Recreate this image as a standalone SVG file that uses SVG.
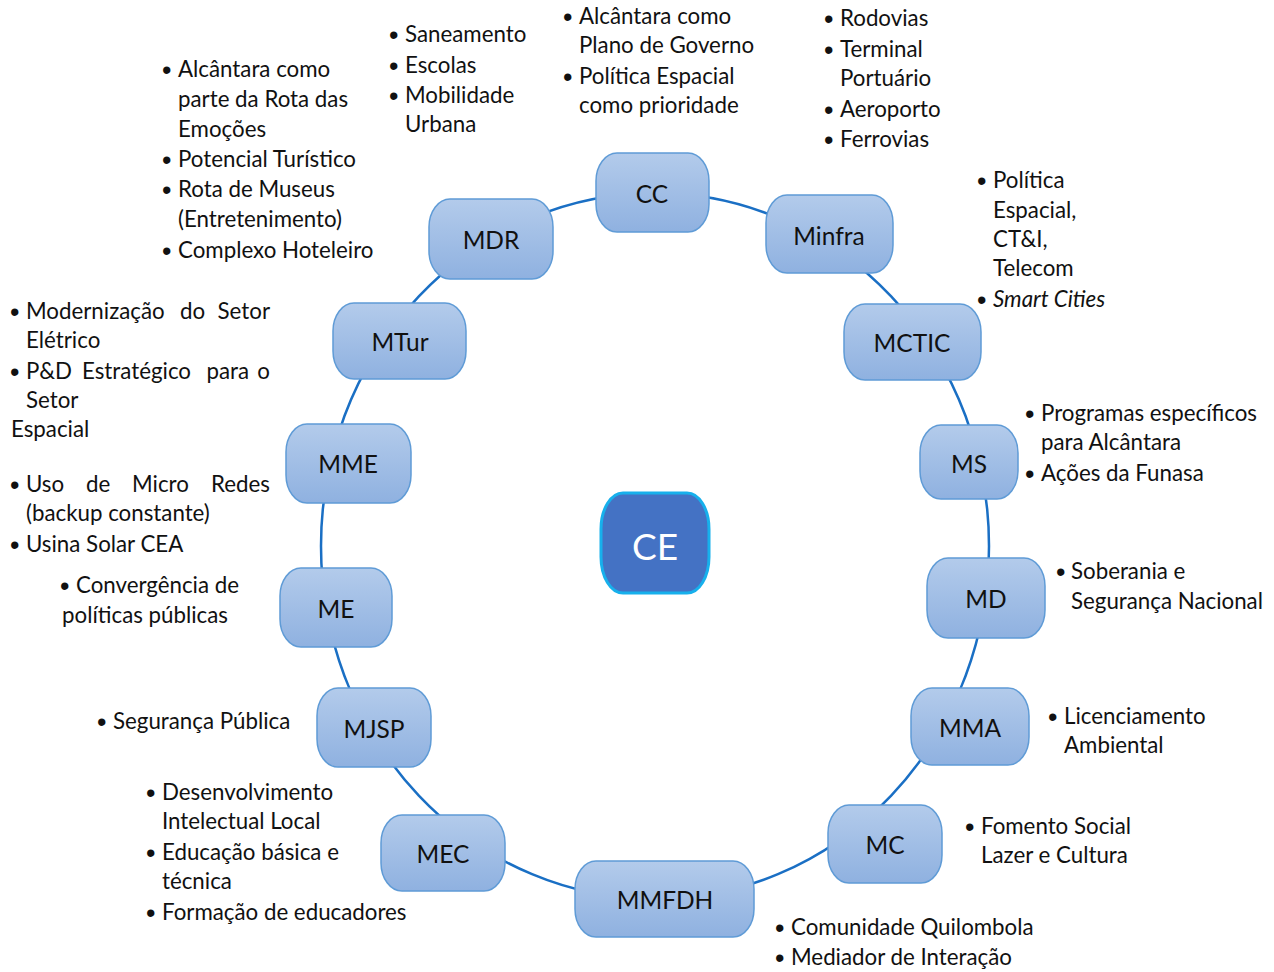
<svg xmlns="http://www.w3.org/2000/svg" width="1274" height="972" viewBox="0 0 1274 972">
<defs>
<linearGradient id="ng" x1="0" y1="0" x2="0" y2="1">
<stop offset="0" stop-color="#b3cbeb"/>
<stop offset="1" stop-color="#8fb1e0"/>
</linearGradient>
<style>
.n rect{fill:url(#ng);stroke:#5f9bd6;stroke-width:1.5}
.n text{font-family:Lato,"Liberation Sans",sans-serif;font-size:24.5px;fill:#111;text-anchor:middle;dominant-baseline:central}
.t{font-family:Lato,"Liberation Sans",sans-serif;font-size:22.3px;fill:#111}
.b{font-family:"Liberation Sans",sans-serif;font-size:27px;fill:#111}
</style>
</defs>
<rect width="1274" height="972" fill="#fff"/>
<g id="connectors">
<ellipse cx="655" cy="546" rx="334" ry="353" fill="none" stroke="#1a6fc4" stroke-width="2.5"/>
</g>
<g id="CC" class="n"><rect x="596" y="153" width="113" height="79" rx="21" ry="28"/><text x="652" y="193">CC</text></g>
<g id="Minfra" class="n"><rect x="766" y="195" width="127" height="78" rx="21" ry="28"/><text x="829" y="235">Minfra</text></g>
<g id="MDR" class="n"><rect x="429" y="199" width="124" height="80" rx="21" ry="28"/><text x="491" y="239">MDR</text></g>
<g id="MTur" class="n"><rect x="333" y="303" width="133" height="76" rx="21" ry="28"/><text x="400" y="341">MTur</text></g>
<g id="MCTIC" class="n"><rect x="844" y="304" width="137" height="76" rx="21" ry="28"/><text x="912" y="342">MCTIC</text></g>
<g id="MME" class="n"><rect x="286" y="424" width="125" height="79" rx="21" ry="28"/><text x="348" y="463">MME</text></g>
<g id="MS" class="n"><rect x="920" y="425" width="98" height="74" rx="21" ry="28"/><text x="969" y="463">MS</text></g>
<g id="ME" class="n"><rect x="280" y="568" width="112" height="79" rx="21" ry="28"/><text x="336" y="608">ME</text></g>
<g id="MD" class="n"><rect x="927" y="558" width="118" height="80" rx="21" ry="28"/><text x="986" y="598">MD</text></g>
<g id="MJSP" class="n"><rect x="317" y="688" width="114" height="79" rx="21" ry="28"/><text x="374" y="728">MJSP</text></g>
<g id="MMA" class="n"><rect x="911" y="688" width="118" height="77" rx="21" ry="28"/><text x="970" y="727">MMA</text></g>
<g id="MEC" class="n"><rect x="381" y="815" width="124" height="76" rx="21" ry="28"/><text x="443" y="853">MEC</text></g>
<g id="MC" class="n"><rect x="828" y="805" width="114" height="78" rx="21" ry="28"/><text x="885" y="844">MC</text></g>
<g id="MMFDH" class="n"><rect x="575" y="861" width="179" height="76" rx="21" ry="28"/><text x="665" y="899">MMFDH</text></g>
<g id="CE"><rect x="601" y="493" width="108" height="100" rx="22" ry="36" fill="#4472c4" stroke="#17b0ec" stroke-width="3"/><text x="655" y="545" font-family="Lato,'Liberation Sans',sans-serif" font-size="37" fill="#fff" text-anchor="middle" dominant-baseline="central">CE</text></g>

<g id="notes-MTur">
<text class="b" x="162" y="79">•</text><text class="t" x="178" y="77">Alcântara como</text>
<text class="t" x="178" y="107">parte da Rota das</text>
<text class="t" x="178" y="137">Emoções</text>
<text class="b" x="162" y="169">•</text><text class="t" x="178" y="167">Potencial Turístico</text>
<text class="b" x="162" y="199">•</text><text class="t" x="178" y="197">Rota de Museus</text>
<text class="t" x="178" y="227">(Entretenimento)</text>
<text class="b" x="162" y="260">•</text><text class="t" x="178" y="258">Complexo Hoteleiro</text>
</g>
<g id="notes-MDR">
<text class="b" x="389" y="44">•</text><text class="t" x="405" y="42">Saneamento</text>
<text class="b" x="389" y="75">•</text><text class="t" x="405" y="73">Escolas</text>
<text class="b" x="389" y="105">•</text><text class="t" x="405" y="103">Mobilidade</text>
<text class="t" x="405" y="132">Urbana</text>
</g>
<g id="notes-CC">
<text class="b" x="563" y="26">•</text><text class="t" x="579" y="24">Alcântara como</text>
<text class="t" x="579" y="53">Plano de Governo</text>
<text class="b" x="563" y="86">•</text><text class="t" x="579" y="84">Política Espacial</text>
<text class="t" x="579" y="113">como prioridade</text>
</g>
<g id="notes-Minfra">
<text class="b" x="824" y="28">•</text><text class="t" x="840" y="26">Rodovias</text>
<text class="b" x="824" y="59">•</text><text class="t" x="840" y="57">Terminal</text>
<text class="t" x="840" y="86">Portuário</text>
<text class="b" x="824" y="119">•</text><text class="t" x="840" y="117">Aeroporto</text>
<text class="b" x="824" y="149">•</text><text class="t" x="840" y="147">Ferrovias</text>
</g>
<g id="notes-MCTIC">
<text class="b" x="977" y="190">•</text><text class="t" x="993" y="188">Política</text>
<text class="t" x="993" y="218">Espacial,</text>
<text class="t" x="993" y="247">CT&amp;I,</text>
<text class="t" x="993" y="276">Telecom</text>
<text class="b" x="977" y="309">•</text><text class="t" x="993" y="307" font-style="italic">Smart Cities</text>
</g>
<g id="notes-MS">
<text class="b" x="1025" y="423">•</text><text class="t" x="1041" y="421">Programas específicos</text>
<text class="t" x="1041" y="450">para Alcântara</text>
<text class="b" x="1025" y="483">•</text><text class="t" x="1041" y="481">Ações da Funasa</text>
</g>
<g id="notes-MD">
<text class="b" x="1056" y="581">•</text><text class="t" x="1071" y="579">Soberania e</text>
<text class="t" x="1071" y="609">Segurança Nacional</text>
</g>
<g id="notes-MMA">
<text class="b" x="1048" y="726">•</text><text class="t" x="1064" y="724">Licenciamento</text>
<text class="t" x="1064" y="753">Ambiental</text>
</g>
<g id="notes-MC">
<text class="b" x="965" y="836">•</text><text class="t" x="981" y="834">Fomento Social</text>
<text class="t" x="981" y="863">Lazer e Cultura</text>
</g>
<g id="notes-MMFDH">
<text class="b" x="775" y="937">•</text><text class="t" x="791" y="935">Comunidade Quilombola</text>
<text class="b" x="775" y="967">•</text><text class="t" x="791" y="965">Mediador de Interação</text>
</g>
<g id="notes-MEC">
<text class="b" x="146" y="802">•</text><text class="t" x="162" y="800">Desenvolvimento</text>
<text class="t" x="162" y="829">Intelectual Local</text>
<text class="b" x="146" y="862">•</text><text class="t" x="162" y="860">Educação básica e</text>
<text class="t" x="162" y="889">técnica</text>
<text class="b" x="146" y="922">•</text><text class="t" x="162" y="920">Formação de educadores</text>
</g>
<g id="notes-MJSP">
<text class="b" x="97" y="731">•</text><text class="t" x="113" y="729">Segurança Pública</text>
</g>
<g id="notes-ME">
<text class="b" x="60" y="595">•</text><text class="t" x="76" y="593">Convergência de</text>
<text class="t" x="62" y="623">políticas públicas</text>
</g>
<g id="notes-MME">
<text class="b" x="10" y="321">•</text><text class="t" x="26" y="319">Modernização</text><text class="t" x="180" y="319">do</text><text class="t" x="270" y="319" text-anchor="end">Setor</text>
<text class="t" x="26" y="348">Elétrico</text>
<text class="b" x="10" y="381">•</text><text class="t" x="26" y="379">P&amp;D</text><text class="t" x="82" y="379">Estratégico</text><text class="t" x="249" y="379" text-anchor="end">para</text><text class="t" x="270" y="379" text-anchor="end">o</text>
<text class="t" x="26" y="408">Setor</text>
<text class="t" x="11" y="437">Espacial</text>
<text class="b" x="10" y="494">•</text><text class="t" x="26" y="492">Uso</text><text class="t" x="86" y="492">de</text><text class="t" x="132" y="492">Micro</text><text class="t" x="270" y="492" text-anchor="end">Redes</text>
<text class="t" x="26" y="521">(backup constante)</text>
<text class="b" x="10" y="554">•</text><text class="t" x="26" y="552">Usina Solar CEA</text>
</g>
</svg>
